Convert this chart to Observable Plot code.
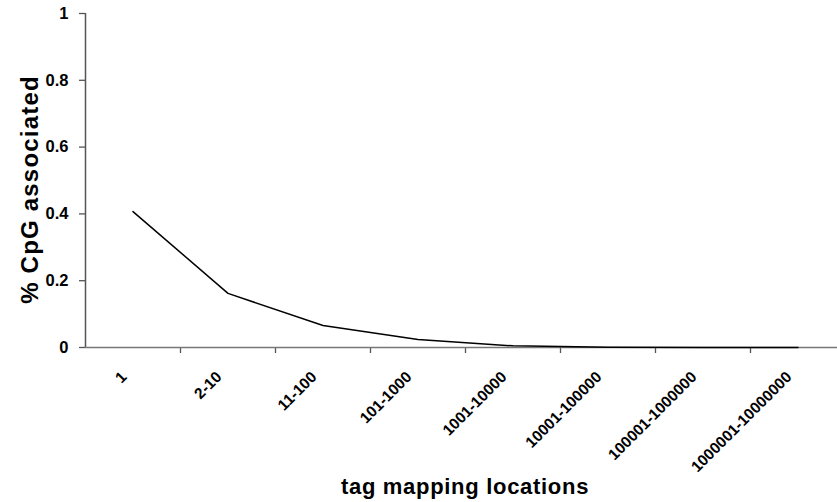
<!DOCTYPE html>
<html>
<head>
<meta charset="utf-8">
<script src="https://cdn.jsdelivr.net/npm/d3@7"></script>
<script src="https://cdn.jsdelivr.net/npm/@observablehq/plot@0.6"></script>
<style>
  html, body { margin: 0; padding: 0; background: white; }
</style>
</head>
<body>
<div id="chart"></div>
<script>
const categories = ["1", "2-10", "11-100", "101-1000", "1001-10000", "10001-100000", "100001-1000000", "1000001-10000000"];
const values = [0.407, 0.162, 0.066, 0.024, 0.005, 0.001, 0, 0];
const yTicks = [0, 0.2, 0.4, 0.6, 0.8, 1];
const yTickLabels = ["0", "0.2", "0.4", "0.6", "0.8", "1"];
const xTitle = "tag mapping locations";
const yTitle = "% CpG associated";

const boundaries = d3.range(1, categories.length + 1);

const chart = Plot.plot({
  width: 837,
  height: 502,
  marginLeft: 85,
  marginRight: 0,
  marginTop: 13,
  marginBottom: 155,
  x: {domain: [0, categories.length], range: [85, 845], axis: null},
  y: {domain: [0, 1], axis: null},
  style: {fontFamily: "'Liberation Sans', Arial, sans-serif", fontWeight: "bold", background: "white", color: "black"},
  marks: [
    Plot.axisY({ticks: yTicks, tickFormat: (d, i) => yTickLabels[i], tickSize: 6, tickPadding: 11, fontSize: 16.5, label: null, stroke: "#555", strokeWidth: 1.3}),
    Plot.axisX({ticks: boundaries, tickFormat: () => "", tickSize: 6, label: null, stroke: "#555", strokeWidth: 1.3}),
    Plot.ruleX([0], {stroke: "#555", strokeWidth: 1.5}),
    Plot.ruleY([0], {stroke: "#777", strokeWidth: 1.5}),
    Plot.line(values, {x: (d, i) => i + 0.5, y: d => d, stroke: "black", strokeWidth: 1.5}),
    Plot.text(categories, {x: (d, i) => i + 0.5, y: 0, text: d => d, rotate: -45, textAnchor: "end", lineAnchor: "middle", dx: -9, dy: 27, fontSize: 15.5, fontWeight: "bold"}),
    Plot.text([yTitle], {frameAnchor: "left", text: d => d, rotate: -90, dx: -55, dy: 9, fontSize: 24, fontWeight: "bold", textAnchor: "middle", lineAnchor: "middle"}),
    Plot.text([xTitle], {frameAnchor: "bottom", text: d => d, dx: 3.5, dy: 139, fontSize: 22, fontWeight: "bold", textAnchor: "middle", lineAnchor: "middle"})
  ]
});

chart.querySelectorAll("text").forEach(t => {
  if (t.textContent === xTitle) t.setAttribute("letter-spacing", "0.7");
  if (t.textContent === yTitle) t.setAttribute("letter-spacing", "1.2");
});

document.getElementById("chart").appendChild(chart);
</script>
</body>
</html>
